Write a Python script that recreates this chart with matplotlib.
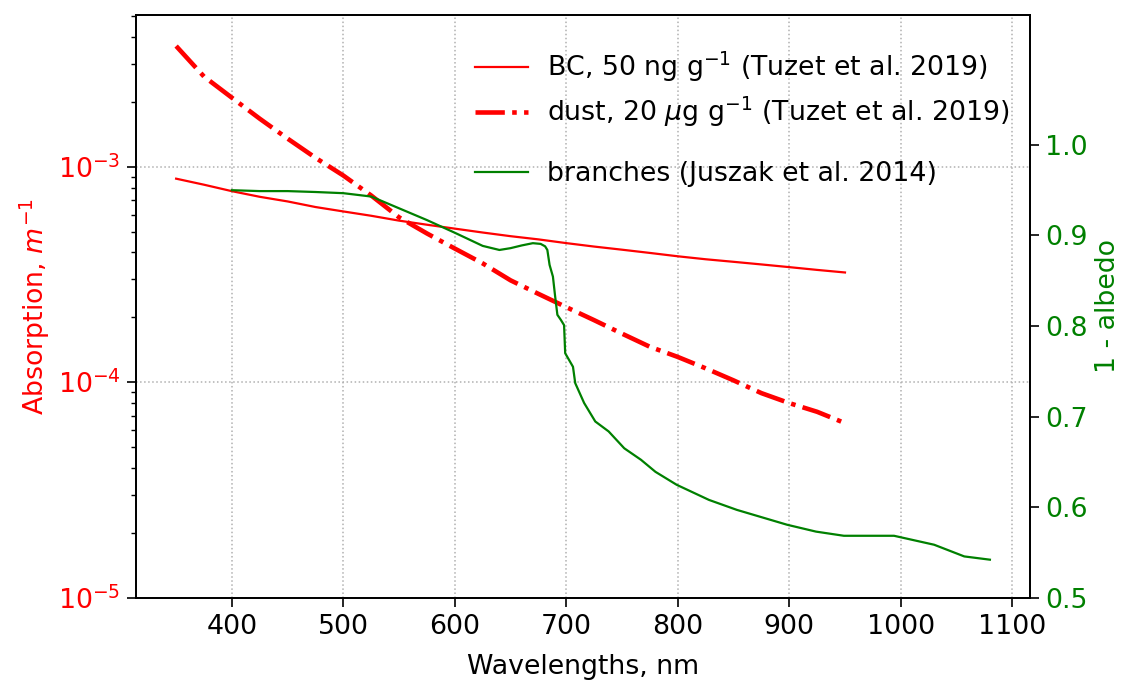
import numpy as np
from matplotlib import pyplot as plt

plt.rcParams['font.size'] = 19.3
plt.rcParams['axes.linewidth'] = 1.3
plt.rcParams['xtick.major.size'] = 6.5
plt.rcParams['ytick.major.size'] = 6.5
plt.rcParams['ytick.minor.size'] = 3.8
plt.rcParams['xtick.major.pad'] = 5
plt.rcParams['ytick.major.pad'] = 4.5
plt.rcParams['xtick.major.width'] = 1.2
plt.rcParams['ytick.major.width'] = 1.2
plt.rcParams['ytick.minor.width'] = 1.0

# BC and dust absorption (Tuzet et al. 2019)
wl_imp = [350, 375, 400, 425, 450, 475, 500, 525, 550, 575, 600, 625, 650,
          675, 700, 725, 750, 775, 800, 825, 850, 875, 900, 925, 950]
bc_abs = [8.8e-4, 8.25e-4, 7.7e-4, 7.25e-4, 6.9e-4, 6.5e-4, 6.2e-4, 5.92e-4,
          5.62e-4, 5.38e-4, 5.16e-4, 4.95e-4, 4.76e-4, 4.6e-4, 4.42e-4, 4.26e-4,
          4.12e-4, 3.98e-4, 3.84e-4, 3.72e-4, 3.62e-4, 3.52e-4, 3.42e-4, 3.32e-4, 3.23e-4]
dust_abs = [3.63e-3, 2.62e-3, 2.09e-3, 1.67e-3, 1.35e-3, 1.10e-3, 9.1e-4, 7.35e-4,
            5.82e-4, 4.9e-4, 4.17e-4, 3.56e-4, 2.97e-4, 2.57e-4, 2.23e-4, 1.94e-4,
            1.68e-4, 1.46e-4, 1.31e-4, 1.16e-4, 1.02e-4, 8.9e-5, 8.0e-5, 7.29e-5, 6.46e-5]

# branches 1 - albedo (Juszak et al. 2014)
wl_br = [400, 425, 450, 475, 500, 525, 550, 575, 600, 625, 640, 650, 660, 670,
         677, 681, 683, 685, 688, 690, 692, 695, 698, 699, 706, 708, 716, 726,
         738, 752, 767, 780, 799, 828, 853, 898, 924, 949, 994, 1030, 1057, 1080]
br_val = [0.950, 0.949, 0.949, 0.948, 0.9467, 0.943, 0.930, 0.917, 0.903, 0.8885,
          0.884, 0.886, 0.889, 0.8915, 0.8907, 0.888, 0.884, 0.8675, 0.8546, 0.8326,
          0.8124, 0.807, 0.801, 0.770, 0.755, 0.737, 0.715, 0.6946, 0.6836, 0.665,
          0.6523, 0.639, 0.6247, 0.608, 0.597, 0.5806, 0.573, 0.5684, 0.5684,
          0.5585, 0.5456, 0.542]

fig, ax1 = plt.subplots(figsize=(11.24, 6.8), dpi=100)
fig.subplots_adjust(left=0.121, right=0.9164, top=0.978, bottom=0.121)

ax1.semilogy(wl_imp, bc_abs, color='red', lw=1.6,
             label=r'BC, 50 ng g$^{-1}$ (Tuzet et al. 2019)')
ax1.semilogy(wl_imp, dust_abs, color='red', lw=3.3, linestyle='-.',
             label=r'dust, 20 $\mu$g g$^{-1}$ (Tuzet et al. 2019)')
ax1.set_ylim(1e-5, 5.06e-3)
ax1.set_ylabel(r'Absorption, $m^{-1}$', color='red')
ax1.tick_params(axis='y', which='both', labelcolor='red')
ax1.set_xlabel('Wavelengths, nm', labelpad=10)
ax1.set_xticks(np.arange(400, 1101, 100))
ax1.grid(linestyle=':', color='#b0b0b0', lw=1.1)
ax1.legend(loc='upper left', bbox_to_anchor=(0.352, 0.982), frameon=False,
           labelspacing=0.4, handletextpad=0.7)

ax2 = ax1.twinx()
ax2.plot(wl_br, br_val, color='green', lw=1.6, label='branches (Juszak et al. 2014)')
ax2.set_ylim(0.5, 1.1435)
ax2.set_yticks(np.arange(0.5, 1.01, 0.1))
ax2.set_ylabel('1 - albedo', color='green', labelpad=5)
ax2.tick_params(axis='y', labelcolor='green')
ax2.legend(loc='upper left', bbox_to_anchor=(0.352, 0.79), frameon=False,
           handletextpad=0.7)

ax1.set_xlim(314, 1116)

plt.savefig('out.png')
